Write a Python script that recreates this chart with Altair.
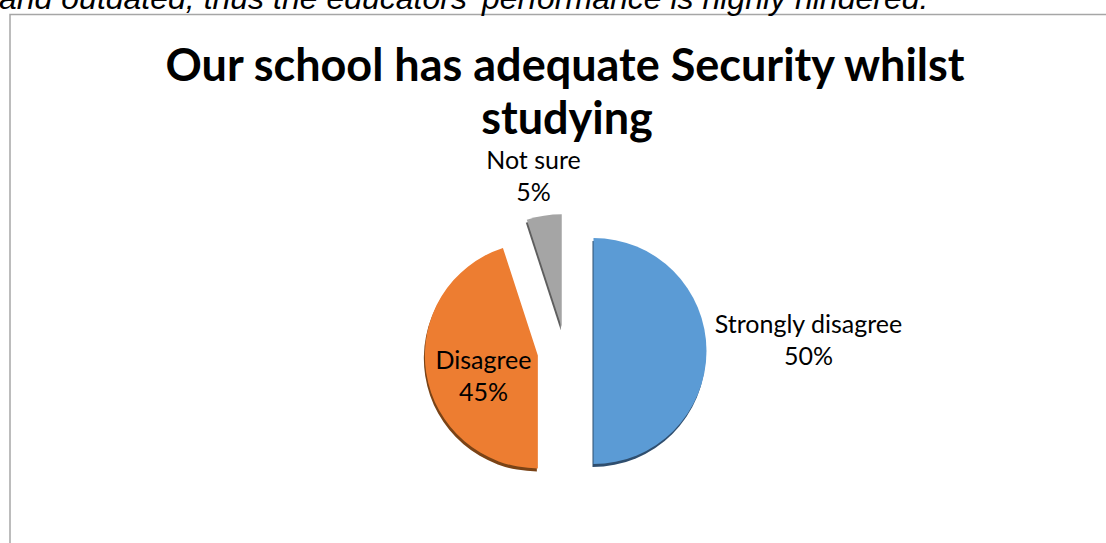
import math
import altair as alt
import pandas as pd

# ---- data ----
categories = ["Strongly disagree", "Disagree", "Not sure"]
values = [50, 45, 5]
pct_labels = ["50%", "45%", "5%"]

# ---- style ----
colors = ["#5B9BD5", "#ED7D31", "#A5A5A5"]
shadow_colors = ["#2F4E6E", "#7A4316", "#5E5E5E"]
W, H = 1106, 543
CX, CY = 565.5, 351.0   # pie centre (layout)
R = 113                  # pie radius
EXPLODE = [28, 28, 24]   # explosion distance per slice
# label anchor offsets relative to pie centre (layout)
LABEL_DX = [243, -82, -32]
LABEL_DY = [-18, 18, -182]

total = sum(values)
rows = []
start = 0.0
for i, (c, v) in enumerate(zip(categories, values)):
    end = start + v
    mid = (start + end) / 2 / total * 2 * math.pi
    rows.append({
        "cat": c, "value": v, "start": start, "end": end,
        "px": CX + EXPLODE[i] * math.sin(mid),
        "py": CY - EXPLODE[i] * math.cos(mid),
        "lx": CX + LABEL_DX[i], "ly": CY + LABEL_DY[i],
        "name": c, "pct": pct_labels[i],
        "fill": colors[i], "sfill": shadow_colors[i],
    })
    start = end
df = pd.DataFrame(rows)

theta_scale = alt.Scale(domain=[0, total], range=[0, 2 * math.pi])

base = alt.Chart(df)

shadow = base.transform_calculate(
    sx="datum.px - 1", sy="datum.py + 3"
).mark_arc(radius=R).encode(
    theta=alt.Theta("start:Q", scale=theta_scale),
    theta2="end:Q",
    x=alt.X("sx:Q", scale=None),
    y=alt.Y("sy:Q", scale=None),
    color=alt.Color("sfill:N", scale=None, legend=None),
)

pie = base.mark_arc(radius=R).encode(
    theta=alt.Theta("start:Q", scale=theta_scale),
    theta2="end:Q",
    x=alt.X("px:Q", scale=None),
    y=alt.Y("py:Q", scale=None),
    color=alt.Color("fill:N", scale=None, legend=None),
)

lab_font = dict(font="Lato", fontSize=25, color="#000000", align="center")
name_text = base.mark_text(baseline="alphabetic", **lab_font).encode(
    x=alt.X("lx:Q", scale=None), y=alt.Y("ly:Q", scale=None), text="name:N"
)
pct_text = base.transform_calculate(ly2="datum.ly + 32").mark_text(
    baseline="alphabetic", **lab_font
).encode(
    x=alt.X("lx:Q", scale=None), y=alt.Y("ly2:Q", scale=None), text="pct:N"
)

one = alt.Chart(pd.DataFrame({"k": [0]}))

frame = one.mark_rect(fill="white", stroke="#A6A6A6", strokeWidth=1.5).encode(
    x=alt.value(10), y=alt.value(14.5), x2=alt.value(W + 50), y2=alt.value(H + 50)
)

top_text = one.mark_text(
    font="Liberation Sans", fontStyle="italic", fontSize=32, align="left",
    baseline="alphabetic", color="#000000"
).encode(
    x=alt.value(-1), y=alt.value(9),
    text=alt.value("and outdated, thus the educators' performance is highly hindered."),
)

title_font = dict(font="Lato", fontWeight="bold", fontSize=45, align="center",
                  baseline="alphabetic", color="#000000")
title1 = one.mark_text(**title_font).encode(
    x=alt.value(565), y=alt.value(81), text=alt.value("Our school has adequate Security whilst"))
title2 = one.mark_text(**title_font).encode(
    x=alt.value(567), y=alt.value(134), text=alt.value("studying"))

chart = alt.layer(
    frame, top_text, title1, title2, shadow, pie, name_text, pct_text
).properties(
    width=W, height=H, padding=0, autosize=alt.AutoSizeParams(type="none"),
    background="white",
).configure_view(stroke=None)

chart.save("out.html", embed_options={"renderer": "svg", "actions": False})
